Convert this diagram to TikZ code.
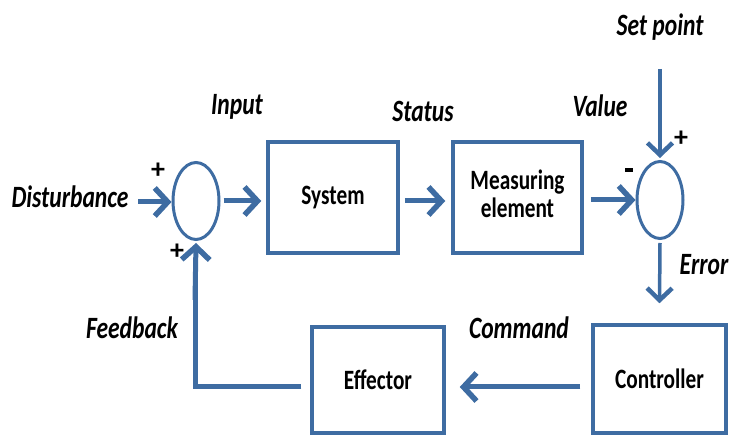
\documentclass[tikz,border=0pt]{standalone}
\usepackage{fontspec}
\setmainfont{Carlito}
\usetikzlibrary{arrows.meta,shapes.geometric}
\definecolor{fb}{RGB}{62,108,162}
\newcommand{\cnd}[1]{\scalebox{0.76}[1]{#1}}
\tikzset{
  blockbox/.style={draw=fb,line width=3.5pt,fill=white,inner sep=0pt,align=center,
     font=\bfseries\fontsize{28}{31}\selectfont},
  sumnode/.style={draw=fb,line width=3pt,ellipse,minimum width=46pt,minimum height=77pt,inner sep=0pt},
  lbl/.style={font=\bfseries\itshape\fontsize{31}{33}\selectfont,inner sep=0pt},
  sgn/.style={font=\bfseries\fontsize{28}{28}\selectfont,inner sep=0pt},
  arr/.style={draw=fb,line width=5pt,-{Straight Barb[length=13pt,width=28pt,line width=5.5pt]}},
  thinarr/.style={draw=fb,line width=3.5pt,-{Straight Barb[length=12pt,width=25pt,line width=4.5pt]}},
  plain/.style={draw=fb,line width=5pt}
}
\begin{document}
\begin{tikzpicture}[x=1pt,y=-1pt]
\useasboundingbox (0,0) rectangle (729,435);
% blocks
\node[blockbox,minimum width=130pt,minimum height=111pt] (sys) at (333,197.5) {\cnd{System}};
\node[blockbox,minimum width=129pt,minimum height=111pt] (meas) at (517.5,197.5) {\cnd{\begin{tabular}{@{}c@{}}Measuring\\[-3pt]element\end{tabular}}};
\node[blockbox,minimum width=132pt,minimum height=106pt] (eff) at (378,380) {\cnd{Effector}};
\node[blockbox,minimum width=133pt,minimum height=108pt] (ctrl) at (659.5,379) {\raisebox{-5pt}{\cnd{Controller}}};
% summing junctions
\node[sumnode] (s1) at (196,201) {};
\node[sumnode] (s2) at (660,200) {};
% labels
\node[lbl] (dist) at (70,197) {\cnd{Disturbance}};
\node[lbl] (inp) at (237,107) {\cnd{Input}};
\node[lbl] (stat) at (423,111) {\cnd{Status}};
\node[lbl] (val) at (600,106) {\cnd{Value}};
\node[lbl] (setp) at (660,27) {\cnd{Set point}};
\node[lbl] (err) at (704,265) {\cnd{Error}};
\node[lbl] (cmd) at (519,328) {\cnd{Command}};
\node[lbl] (fbk) at (132,328) {\cnd{Feedback}};
% signs
\node[sgn] (p1) at (158,171) {+};
\node[sgn] (p2) at (177,252) {+};
\node[sgn] (p3) at (681,139) {+};
\node[sgn] (m1) at (629,170) {\rule{8pt}{3.5pt}};
% connectors
\coordinate (dstart) at (138,202);
\coordinate (spstart) at (660,69);
\draw[arr] (dstart) -- (dstart -| s1.west);
\draw[arr] ([xshift=3pt]s1.east) -- ([xshift=-5pt]sys.west |- s1.east);
\draw[arr] ([xshift=5pt]sys.east |- s1.east) -- ([xshift=-6pt]meas.west |- s1.east);
\draw[arr] ([xshift=7pt]meas.east |- s2.west) -- (s2.west);
\draw[thinarr] (spstart) -- ([yshift=2pt]s2.north);
\draw[thinarr] ([yshift=-3pt]s2.south) -- ([yshift=20pt]ctrl.north);
\draw[arr] ([xshift=-11pt,yshift=-8pt]ctrl.west) -- ([xshift=14pt,yshift=-7pt]eff.west -| eff.east);
\draw[plain] ([xshift=-9pt,yshift=-7pt]eff.west) -| (195,260);
\draw[arr] (195,300) -- ([yshift=-2pt]s1.south);
\end{tikzpicture}
\end{document}
